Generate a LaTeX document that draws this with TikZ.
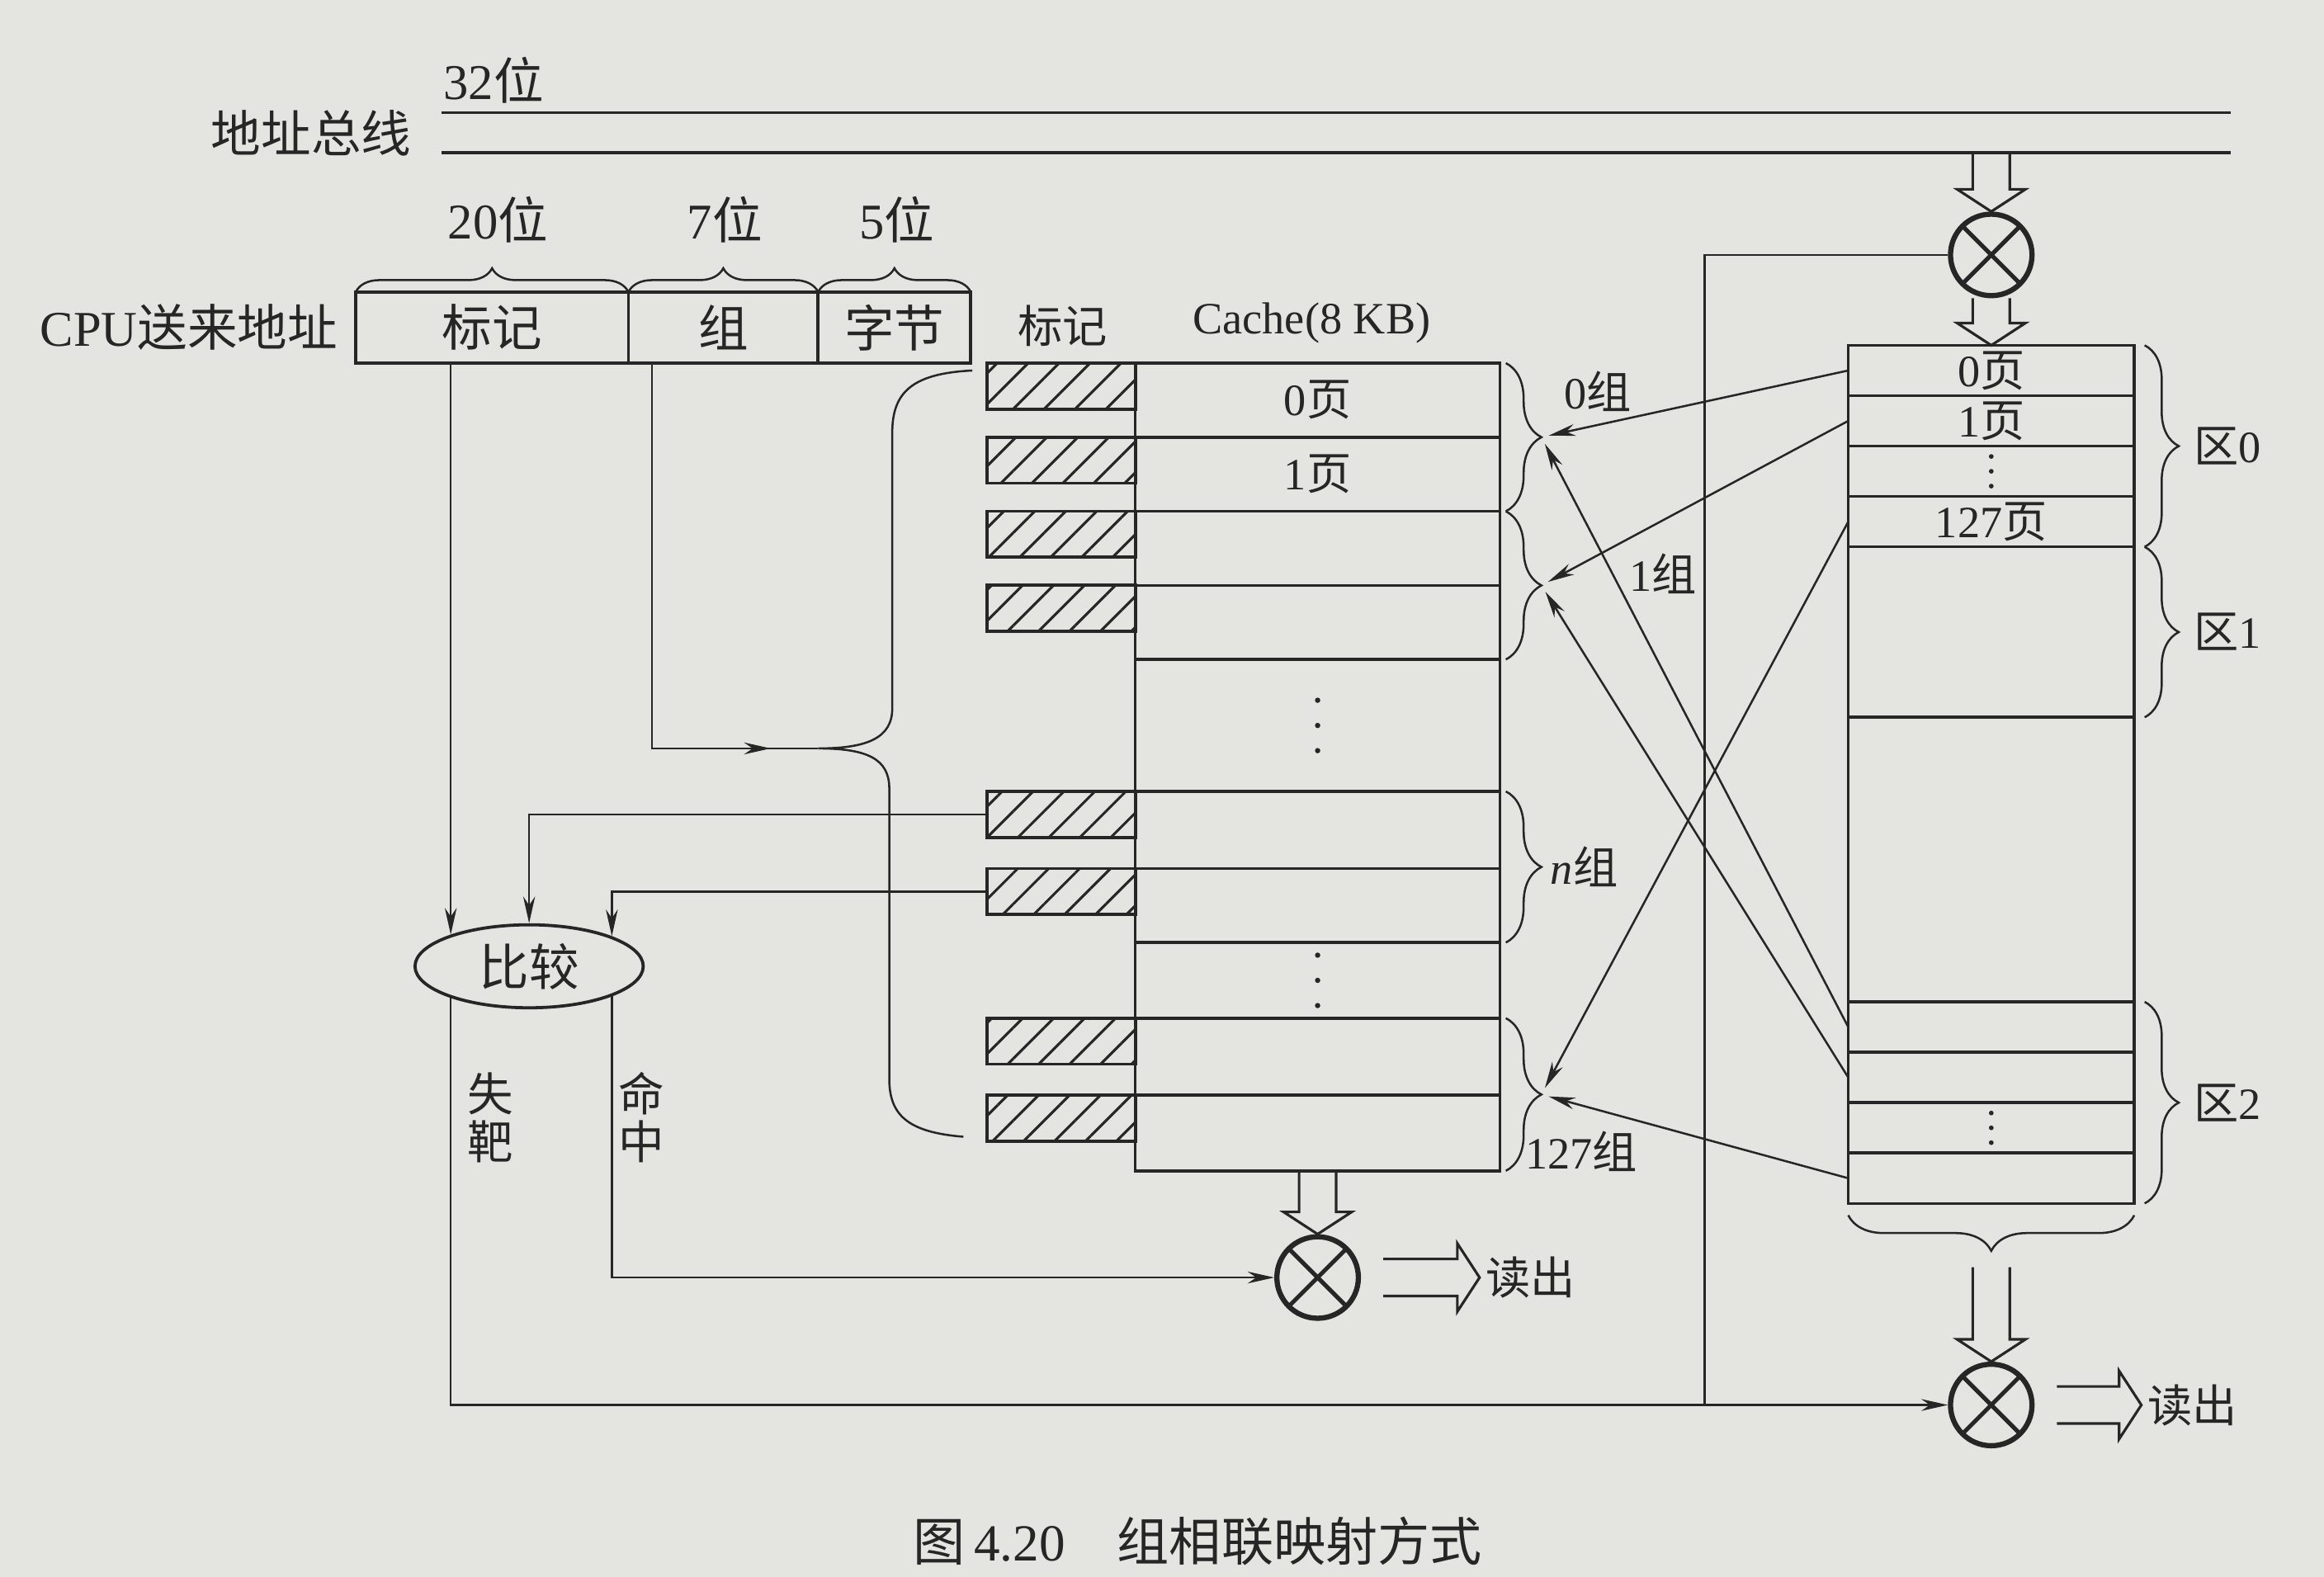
\documentclass[tikz,border=0pt]{standalone}
\usepackage{fontspec}
\setmainfont{Liberation Serif}
\newfontfamily\cjk{Noto Sans CJK SC}
\usetikzlibrary{positioning,arrows.meta,calc,shapes.geometric,patterns.meta,decorations.pathreplacing,decorations.markings}
\definecolor{ink}{RGB}{38,38,38}
\definecolor{paper}{RGB}{228,228,225}
\newcommand{\zh}[1]{{\cjk #1}}
\newcommand{\hollowdown}[2]{\draw[hol] ($(#1)+(-12.5,0)$) -- ($(#2)+(-12.5,-15)$) -- ($(#2)+(-23,-15)$) -- (#2) -- ($(#2)+(23,-15)$) -- ($(#2)+(12.5,-15)$) -- ($(#1)+(12.5,0)$);}
\newcommand{\hollowright}[2]{\draw[hol] ($(#1)+(0,-12.5)$) -- ($(#2)+(-15,-12.5)$) -- ($(#2)+(-15,-23)$) -- (#2) -- ($(#2)+(-15,23)$) -- ($(#2)+(-15,12.5)$) -- ($(#1)+(0,12.5)$);}

\begin{document}
\begin{tikzpicture}[x=0.1mm,y=-0.1mm,ink,line width=0.4pt,
  lblbig/.style={font=\fontsize{9.6}{11}\selectfont,inner sep=1pt},
  lblsm/.style={font=\fontsize{8.6}{10}\selectfont,inner sep=1pt},
  vlbl/.style={font=\fontsize{8.8}{9.2}\selectfont,align=center,inner sep=1pt},
  fld/.style={draw,line width=0.6pt,minimum height=4.8mm,inner sep=0,outer sep=0,lblbig},
  crow/.style={draw,line width=0.55pt,minimum width=24.6mm,inner sep=0,outer sep=0,anchor=north west},
  mrow/.style={draw,line width=0.55pt,minimum width=19.3mm,inner sep=0,outer sep=0,anchor=north west},
  tagbox/.style={draw,line width=0.6pt,minimum width=10mm,minimum height=3.1mm,anchor=north east,outer sep=0,
    pattern={Lines[angle=45,distance=4.2pt,line width=0.5pt]},pattern color=ink},
  gate/.style={circle,draw,line width=1pt,minimum size=5.5mm,inner sep=0,
    path picture={\draw[line width=0.8pt] (path picture bounding box.north west) -- (path picture bounding box.south east)
      (path picture bounding box.south west) -- (path picture bounding box.north east);}},
  arr/.style={-{Stealth[length=1.8mm,width=0.8mm]}},
  brc/.style={decorate,decoration={brace,amplitude=#1}},
  hol/.style={line width=0.5pt,line join=miter}]
  \useasboundingbox (0,0) rectangle (1568,1064);
  \fill[paper] (0,0) rectangle (1568,1064);
  \draw[line width=0.6pt] (298,76) -- (1505,76) (298,103) -- (1505,103);
  \node[lblbig] (w32) at (333,54) {32\zh{位}};
  \node[lblbig] (bus) at (210,90) {\zh{地址总线}};
  \node[fld,minimum width=18.4mm] (tagf) at (332,221) {\zh{标记}};
  \node[fld,minimum width=12.8mm,right=0pt of tagf] (setf) {\zh{组}};
  \node[fld,minimum width=10.3mm,right=0pt of setf] (bytef) {\zh{字节}};
  \node[lblbig,left=0.8mm of tagf] (cpu) {CPU\zh{送来地址}};
  \draw[brc=1.6mm] (tagf.north west) -- (tagf.north east);
  \draw[brc=1.6mm] (setf.north west) -- (setf.north east);
  \draw[brc=1.6mm] (bytef.north west) -- (bytef.north east);
  \node[lblbig] (w20) at (336,148) {20\zh{位}};
  \node[lblbig] (w7) at (489,148) {7\zh{位}};
  \node[lblbig] (w5) at (605,148) {5\zh{位}};
  \foreach \y/\h/\n in {245/50/c0,295/50/c1,345/50/c2,395/50/c3,445/89/cd1,534/52/cn0,586/50/cn1,636/51/cd2,687/52/c126,739/51/c127}
    \node[crow,minimum height=\h*0.1mm] (\n) at (766,\y) {};
  \foreach \r [count=\i] in {c0,c1,c2,c3,cn0,cn1,c126,c127}
    \node[tagbox] (t\i) at (\r.north west) {};
  \node[lblsm] (taghd) at (717,220) {\zh{标记}};
  \node[lblsm] (cachehd) at (885,218) {Cache(8 KB)};
  \node[lblsm] at (c0) {0\zh{页}};
  \node[lblsm] at (c1) {1\zh{页}};
  \foreach \d in {-17,0,17} \fill ($(cd1)+(0,\d)$) circle (1.8);
  \foreach \d in {-17,0,17} \fill ($(cd2)+(0,\d)$) circle (1.8);
  \draw[brc=2.4mm,decoration={raise=0.4mm}] (c0.north east) -- (c1.south east) coordinate[pos=0.5,xshift=2.8mm] (g0);
  \draw[brc=2.4mm,decoration={raise=0.4mm}] (c2.north east) -- (c3.south east) coordinate[pos=0.5,xshift=2.8mm] (g1);
  \draw[brc=2.4mm,decoration={raise=0.4mm}] (cn0.north east) -- (cn1.south east) coordinate[pos=0.5,xshift=2.8mm] (gn);
  \draw[brc=2.4mm,decoration={raise=0.4mm}] (c126.north east) -- (c127.south east) coordinate[pos=0.5,xshift=2.8mm] (g127);
  \node[lblsm] at (1078,264) {0\zh{组}};
  \node[lblsm] at (1122,387) {1\zh{组}};
  \node[lblsm,right=0.2mm of gn] {\textit{n}\zh{组}};
  \node[lblsm] at (1067,777) {127\zh{组}};
  \coordinate (btip) at (552,505);
  \draw (656,250) .. controls (615,252) and (602,265) .. (602,292) -- (602,478)
    .. controls (602,498) and (585,505) .. (btip) .. controls (585,505) and (600,512) .. (600,532)
    -- (600,728) .. controls (600,752) and (612,764) .. (650,767);
  \foreach \y/\h/\n in {233/34/m0,267/34/m1,301/34/m2,335/34/m127,369/115/z1,484/192/zx,676/34/z2a,710/34/z2b,744/34/z2c,778/34/z2d}
    \node[mrow,minimum height=\h*0.1mm] (\n) at (1247,\y) {};
  \node[lblsm] at (m0) {0\zh{页}};
  \node[lblsm] at (m1) {1\zh{页}};
  \node[lblsm] at (m127) {127\zh{页}};
  \foreach \d in {-10,0,10} \fill ($(m2)+(0,\d)$) circle (1.6);
  \foreach \d in {-10,0,10} \fill ($(z2c)+(0,\d)$) circle (1.6);
  \draw[brc=2.3mm,decoration={raise=0.7mm}] (m0.north east) -- (m127.south east) coordinate[pos=0.5,xshift=3mm] (q0);
  \draw[brc=2.3mm,decoration={raise=0.7mm}] (z1.north east) -- (z1.south east) coordinate[pos=0.5,xshift=3mm] (q1);
  \draw[brc=2.3mm,decoration={raise=0.7mm}] (z2a.north east) -- (z2d.south east) coordinate[pos=0.5,xshift=3mm] (q2);
  \node[lblsm,right=0.6mm of q0] {\zh{区}0};
  \node[lblsm,right=0.6mm of q1] {\zh{区}1};
  \node[lblsm,right=0.6mm of q2] {\zh{区}2};
  \draw[brc=2.4mm,decoration={raise=0.8mm}] (z2d.south east) -- (z2d.south west) coordinate[pos=0.5,yshift=-3.2mm] (mtip);
  \draw[arr,shorten >=0.5mm] (m0.west) -- (g0);
  \draw[arr,shorten >=0.5mm] (m1.west) -- (g1);
  \draw[arr,shorten >=0.5mm] (m127.west) -- (g127);
  \draw[arr,shorten >=0.5mm] (z2a.west) -- (g0);
  \draw[arr,shorten >=0.5mm] (z2b.west) -- (g1);
  \draw[arr,shorten >=0.5mm] (z2d.west) -- (g127);
  \node[gate] (topg) at (1343.5,172) {};
  \node[gate] (cg) at (889,862) {};
  \node[gate] (mg) at (1343.5,948) {};
  \coordinate (tap) at (1343.5,103);
  \hollowdown{tap}{topg.north}
  \hollowdown{topg.south}{m0.north}
  \hollowdown{c127.south}{cg.north}
  \path (mtip) ++(0,11) coordinate (mt2);
  \hollowdown{mt2}{mg.north}
  \node[lblsm,anchor=west] (out1) at ($(cg.east)+(80,0)$) {\zh{读出}};
  \node[lblsm,anchor=west] (out2) at ($(mg.east)+(72,0)$) {\zh{读出}};
  \path (cg.east) ++(15,0) coordinate (o1);
  \path (mg.east) ++(15,0) coordinate (o2);
  \hollowright{o1}{out1.west}
  \hollowright{o2}{out2.west}
  \node[draw,ellipse,minimum width=15.4mm,minimum height=5.6mm,inner sep=0,line width=0.6pt,lblbig] (cmp) at (357,652) {\zh{比较}};
  \draw[arr] (cmp.158 |- tagf.south) -- (cmp.158);
  \draw[arr] (t5.west) -| (cmp.north);
  \draw[arr] (t6.west) -| (cmp.20);
  \draw[postaction={decorate},decoration={markings,mark=at position -3.2mm with {\arrow{Stealth[length=1.8mm,width=0.8mm]}}}]
    ($(setf.south west)+(16,0)$) |- (btip);
  \draw[arr] (cmp.202) |- (mg.west);
  \draw[arr] (cmp.-20) |- (cg.west);
  \coordinate (jn) at (1150,948);
  \draw (topg.west) -| (jn);
  \node[vlbl] (miss) at (331,754) {\zh{失}\\\zh{靶}};
  \node[vlbl] (hit) at (433,754) {\zh{命}\\\zh{中}};
  \node[font=\fontsize{10}{12}\selectfont] (cap) at (808,1040) {\zh{图}\,4.20\hspace{1em}\zh{组相联映射方式}};
\end{tikzpicture}
\end{document}
